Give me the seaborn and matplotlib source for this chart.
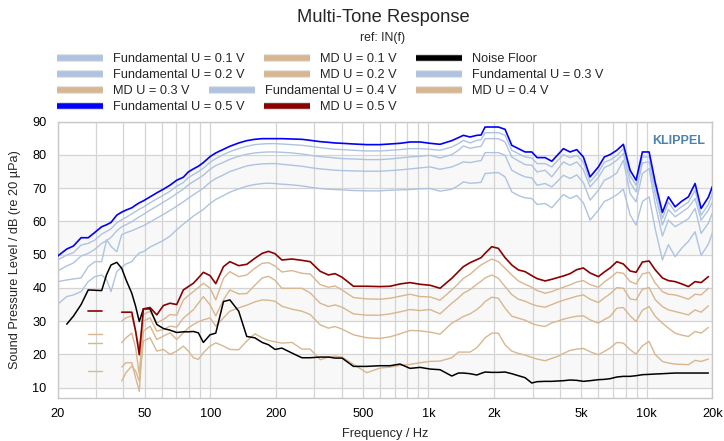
import numpy as np
import pandas as pd
import matplotlib
matplotlib.use("Agg")
import matplotlib.pyplot as plt
import matplotlib.ticker as mticker
import matplotlib.patheffects as pe
from matplotlib.lines import Line2D
import seaborn as sns

nan = np.nan

# ---------------- data ----------------
freq = [20, 22.0, 23.6, 25.6, 27.6, 29.6, 31.8, 33.5, 35.1, 37.3,
        39.3, 41.1, 43.7, 45.5, 47.3, 49.4, 53.0, 56.9, 61.0, 65.4,
        70.2, 75.3, 79.4, 83.7, 88.2, 93.0, 99.8, 106, 115, 123,
        135, 147, 160, 173, 185, 198, 213, 237, 263, 287,
        319, 348, 373, 402, 453, 522, 600, 667, 741, 823,
        915, 1017, 1130, 1279, 1371, 1445, 1551, 1665, 1742, 1817,
        1950, 2090, 2244, 2408, 2582, 2772, 2974, 3146, 3424, 3674,
        3906, 4152, 4454, 4782, 5126, 5502, 6006, 6397, 6795, 7294,
        7817, 8391, 8940, 9556, 10258, 10926, 11802, 12572, 13494, 14484,
        15524, 16660, 17754, 19174, 20000]

fund_05 = [49.6, 51.7, 52.6, 55.1, 55.1, 56.7, 58.4, 59.0, 59.7, 61.9,
           62.8, 63.4, 64.1, 64.9, 65.6, 66.2, 67.4, 68.6, 69.7, 70.9,
           72.4, 73.3, 74.9, 75.8, 76.6, 77.7, 79.5, 80.6, 81.7, 82.6,
           83.6, 84.3, 84.7, 84.9, 84.9, 84.9, 84.9, 84.8, 84.7, 84.4,
           84.0, 83.8, 83.6, 83.5, 83.3, 83.1, 83.1, 83.3, 83.5, 83.9,
           83.9, 83.5, 83.2, 84.3, 85.2, 85.9, 85.4, 85.9, 86.0, 88.4,
           88.4, 88.4, 87.7, 82.9, 81.9, 80.9, 80.9, 79.2, 79.2, 78.1,
           80.0, 81.9, 80.9, 81.6, 79.4, 73.4, 76.4, 79.4, 80.1, 81.4,
           83.2, 75.4, 72.4, 80.9, 80.9, 71.9, 62.7, 67.4, 64.4, 66.1,
           67.4, 71.4, 63.9, 67.3, 70.5]

fund_04 = [48.4, 49.9, 50.6, 52.9, 53.4, 54.4, 56.2, 57.0, 57.8, 59.6,
           60.5, 61.2, 62.3, 63.0, 63.7, 64.3, 65.6, 66.8, 67.9, 69.1,
           70.6, 71.7, 73.2, 74.1, 75.0, 76.0, 77.8, 78.9, 80.1, 81.0,
           81.9, 82.6, 83.1, 83.3, 83.4, 83.4, 83.3, 83.1, 82.9, 82.6,
           82.2, 81.9, 81.7, 81.6, 81.4, 81.2, 81.2, 81.4, 81.6, 81.9,
           81.9, 81.7, 81.4, 82.4, 83.4, 84.4, 83.6, 84.4, 84.6, 86.7,
           86.7, 86.7, 85.9, 81.4, 80.4, 79.4, 79.1, 77.4, 77.4, 76.4,
           78.3, 80.1, 79.2, 79.9, 77.8, 71.9, 74.8, 77.8, 78.5, 79.8,
           81.9, 73.8, 70.9, 79.4, 79.4, 70.4, 60.9, 65.8, 62.9, 64.5,
           65.8, 69.4, 61.9, 65.1, 68.4]

fund_03 = [45.1, 46.6, 47.5, 49.6, 50.4, 51.6, 53.4, 54.2, 55.2, 57.2,
           58.4, 59.0, 59.9, 60.7, 61.4, 62.1, 63.4, 64.6, 65.8, 67.0,
           68.4, 69.7, 71.0, 72.0, 72.9, 73.9, 75.7, 76.8, 77.8, 78.7,
           79.6, 80.2, 80.6, 80.8, 80.9, 80.9, 80.8, 80.6, 80.3, 79.9,
           79.5, 79.3, 79.1, 78.9, 78.8, 78.6, 78.6, 78.8, 79.1, 79.4,
           79.6, 79.9, 79.1, 80.1, 81.4, 82.7, 82.0, 82.4, 82.6, 84.9,
           84.9, 84.9, 83.9, 79.4, 78.2, 77.1, 76.9, 74.9, 75.4, 73.4,
           75.7, 77.9, 76.9, 77.9, 75.6, 70.4, 73.2, 76.2, 77.0, 78.4,
           80.4, 71.8, 68.9, 77.6, 77.9, 68.4, 58.9, 63.6, 61.4, 62.8,
           64.2, 66.9, 60.4, 63.4, 65.9]

fund_02 = [41.9, 42.4, 42.7, 43.0, 46.4, 47.9, 47.9, 54.5, 52.5, 50.9,
           56.0, 56.6, 57.2, 57.7, 58.2, 58.7, 59.8, 61.0, 62.1, 63.3,
           64.6, 65.9, 67.0, 68.0, 69.0, 70.0, 71.8, 72.9, 74.0, 75.0,
           75.9, 76.7, 77.1, 77.3, 77.4, 77.4, 77.2, 76.9, 76.6, 76.2,
           75.8, 75.6, 75.4, 75.3, 75.2, 75.1, 75.1, 75.3, 75.5, 75.8,
           76.1, 76.4, 75.7, 76.4, 77.2, 77.9, 77.7, 78.1, 78.3, 80.7,
           80.7, 80.7, 79.9, 75.4, 74.3, 73.4, 73.1, 70.9, 71.4, 70.4,
           72.1, 73.9, 72.9, 74.0, 71.7, 66.4, 69.4, 72.4, 73.2, 74.6,
           78.4, 68.4, 65.9, 74.4, 75.9, 65.4, 55.6, 60.4, 58.4, 59.6,
           60.8, 63.9, 56.4, 59.5, 62.6]

fund_01 = [35.1, 37.4, 37.9, 38.9, 41.9, 43.4, 43.9, 42.5, 38.9, 44.9,
           46.2, 47.2, 47.9, 49.4, 50.5, 50.9, 52.3, 53.3, 54.3, 55.6,
           57.5, 59.2, 60.4, 61.6, 62.6, 63.6, 65.4, 66.6, 67.8, 68.8,
           69.8, 70.6, 71.1, 71.4, 71.5, 71.4, 71.2, 71.0, 70.7, 70.3,
           69.9, 69.7, 69.6, 69.5, 69.3, 69.2, 69.2, 69.4, 69.5, 69.6,
           69.8, 69.9, 69.1, 69.7, 70.8, 71.9, 71.5, 71.6, 71.8, 74.4,
           74.6, 74.7, 73.4, 68.9, 67.8, 67.1, 66.9, 65.1, 65.4, 64.1,
           66.1, 68.1, 66.9, 67.8, 65.6, 60.4, 63.4, 66.0, 66.8, 68.0,
           69.7, 62.0, 58.9, 66.0, 67.4, 57.9, 48.4, 53.0, 49.4, 52.0,
           54.0, 56.9, 49.8, 53.2, 56.6]

md_05 = [nan, nan, nan, nan, 33.1, 33.1, 33.1, nan, nan, nan,
         32.7, 32.7, 32.7, 27.0, 19.9, 33.7, 34.1, 31.9, 34.7, 35.4,
         35.0, 39.4, 40.4, 41.4, 43.0, 44.7, 43.7, 41.3, 46.4, 47.9,
         46.7, 47.1, 48.9, 50.4, 51.0, 50.3, 48.4, 48.7, 48.3, 47.9,
         45.0, 43.9, 44.3, 43.2, 40.5, 40.5, 40.4, 40.5, 41.2, 41.6,
         41.1, 40.8, 39.9, 42.9, 44.9, 46.4, 47.6, 48.5, 49.1, 50.4,
         52.4, 51.9, 49.1, 46.9, 45.4, 44.9, 43.7, 42.8, 42.1, 42.6,
         43.1, 43.6, 44.3, 45.5, 46.0, 44.5, 43.4, 44.8, 46.0, 47.9,
         47.2, 45.1, 44.7, 47.8, 48.1, 45.5, 43.0, 42.2, 41.9, 41.2,
         40.4, 41.9, 41.6, 43.4, nan]

md_04 = [nan, nan, nan, nan, 26.2, 26.2, 26.2, nan, nan, nan,
         30.0, 31.0, 31.6, 27.0, 22.0, 32.0, 33.0, 29.5, 30.5, 32.0,
         31.8, 36.4, 37.7, 38.9, 40.1, 41.4, 39.9, 36.4, 42.9, 44.9,
         43.4, 43.9, 45.9, 47.4, 47.6, 46.6, 44.8, 45.2, 44.4, 44.2,
         41.0, 40.2, 40.6, 39.4, 37.1, 36.7, 36.6, 36.9, 37.5, 38.1,
         37.4, 37.3, 36.3, 39.4, 41.3, 42.9, 44.1, 45.9, 46.9, 47.6,
         48.7, 47.9, 45.9, 43.9, 42.1, 41.1, 40.2, 39.2, 38.4, 38.9,
         39.6, 40.2, 40.9, 41.8, 42.2, 41.0, 40.2, 41.8, 43.0, 44.7,
         44.4, 41.9, 41.2, 44.2, 44.7, 41.5, 38.9, 38.1, 37.9, 37.3,
         36.6, 38.1, 37.9, 39.9, nan]

md_03 = [nan, nan, nan, nan, 23.4, 23.4, 23.4, nan, nan, nan,
         23.5, 25.0, 26.4, 22.0, 14.0, 30.0, 31.0, 27.0, 27.5, 28.5,
         28.2, 30.9, 32.2, 33.4, 35.4, 37.4, 34.9, 31.6, 36.4, 39.4,
         38.2, 38.3, 40.8, 43.0, 43.5, 42.3, 39.9, 39.9, 39.9, 38.5,
         35.4, 34.4, 34.9, 34.2, 32.2, 31.8, 31.8, 32.2, 32.8, 33.5,
         33.2, 33.5, 32.2, 35.4, 37.0, 38.4, 39.5, 41.1, 42.0, 43.0,
         43.9, 42.9, 40.4, 38.0, 36.6, 36.0, 35.1, 34.6, 34.2, 35.0,
         35.7, 36.3, 36.9, 37.5, 37.9, 36.6, 35.6, 37.0, 38.2, 40.1,
         39.9, 36.7, 36.4, 39.6, 40.1, 36.5, 34.4, 33.4, 32.9, 32.4,
         31.9, 33.4, 32.7, 34.6, nan]

md_02 = [nan, nan, nan, nan, 15.1, 15.1, 15.1, nan, nan, nan,
         16.2, 17.5, 17.5, 13.0, 8.9, 27.0, 28.5, 24.5, 25.5, 26.5,
         24.5, 26.5, 28.0, 29.0, 29.8, 30.4, 31.0, 28.5, 31.0, 33.0,
         34.0, 34.8, 35.8, 36.4, 36.3, 36.0, 34.5, 33.6, 33.0, 32.0,
         28.9, 27.9, 28.4, 27.6, 25.9, 25.0, 24.8, 25.3, 26.2, 27.2,
         27.1, 26.7, 26.1, 29.4, 30.5, 31.4, 32.2, 33.5, 34.6, 35.9,
         37.2, 36.9, 33.9, 31.5, 30.9, 30.3, 29.3, 28.8, 28.4, 29.5,
         30.0, 30.6, 31.1, 31.5, 31.6, 30.4, 29.4, 30.5, 31.4, 33.9,
         34.1, 31.6, 29.9, 33.3, 34.4, 31.5, 29.4, 27.9, 26.4, 25.8,
         25.4, 26.9, 26.4, 28.1, nan]

md_01 = [nan, nan, nan, nan, nan, nan, nan, nan, nan, nan,
         12.0, 14.5, 16.5, 15.0, 12.0, 24.0, 25.0, 21.0, 21.5, 20.0,
         21.0, 22.5, 21.0, 19.0, 18.5, 20.5, 22.5, 23.5, 22.5, 21.5,
         21.4, 24.0, 26.2, 25.0, 24.2, 23.8, 23.4, 23.6, 21.6, 21.6,
         18.4, 19.2, 19.5, 19.2, 17.0, 14.5, 15.9, 16.2, 16.7, 17.0,
         17.5, 17.9, 18.0, 19.0, 20.7, 20.7, 20.7, 22.0, 23.5, 25.0,
         26.4, 26.4, 22.9, 21.0, 20.3, 19.8, 19.1, 18.6, 18.1, 18.8,
         19.4, 20.3, 21.2, 21.6, 21.8, 20.8, 19.9, 20.9, 21.9, 23.6,
         23.4, 21.4, 20.1, 22.6, 23.9, 20.0, 17.9, 17.4, 17.1, 17.0,
         16.9, 18.2, 17.9, 18.6, nan]

noise_floor = [nan, 29.1, 31.5, 35.0, 39.4, 39.3, 39.2, 44.0, 46.9, 47.7,
               45.9, 42.5, 38.4, 34.5, 29.9, 33.7, 33.7, 29.0, 27.8, 27.3,
               26.6, 26.8, 26.8, 26.9, 26.5, 23.6, 25.9, 26.4, 35.9, 36.4,
               33.0, 25.4, 25.0, 23.6, 22.9, 21.5, 21.9, 20.4, 19.0, 19.0,
               19.2, 19.2, 18.9, 18.9, 16.4, 16.4, 16.6, 16.6, 17.1, 15.8,
               16.1, 15.6, 15.4, 13.5, 14.4, 14.4, 14.2, 13.8, 14.3, 14.7,
               14.6, 14.6, 14.7, 14.2, 13.6, 13.0, 11.4, 11.8, 11.9, 11.9,
               12.0, 12.1, 12.3, 12.2, 11.9, 12.1, 12.4, 12.5, 12.7, 13.2,
               13.4, 13.4, 13.6, 13.9, 14.0, 14.1, 14.2, 14.3, 14.4, 14.4,
               14.4, 14.4, 14.4, 14.4, nan]

x_ticks = [20, 50, 100, 200, 500, 1000, 2000, 5000, 10000, 20000]
x_tick_labels = ["20", "50", "100", "200", "500", "1k", "2k", "5k", "10k", "20k"]
y_ticks = [10, 20, 30, 40, 50, 60, 70, 80, 90]

# ---------------- styling ----------------
C_FUND = "#aec3e1"
C_MD = "#d9b68e"
C_FUND5 = "#0000ff"
C_MD5 = "#8b0000"
C_NF = "#000000"

series = [
    ("Fundamental U = 0.1 V", fund_01, C_FUND, 1.0, 2),
    ("Fundamental U = 0.2 V", fund_02, C_FUND, 1.0, 2),
    ("Fundamental U = 0.3 V", fund_03, C_FUND, 1.0, 2),
    ("Fundamental U = 0.4 V", fund_04, C_FUND, 1.0, 2),
    ("MD U = 0.1 V", md_01, C_MD, 1.0, 3),
    ("MD U = 0.2 V", md_02, C_MD, 1.0, 3),
    ("MD U = 0.3 V", md_03, C_MD, 1.0, 3),
    ("MD U = 0.4 V", md_04, C_MD, 1.0, 3),
    ("Noise Floor", noise_floor, C_NF, 1.1, 4),
    ("Fundamental U = 0.5 V", fund_05, C_FUND5, 1.2, 5),
    ("MD U = 0.5 V", md_05, C_MD5, 1.2, 5),
]
style = {name: (c, lw, z) for name, _, c, lw, z in series}

rows = []
for name, vals, *_ in series:
    seg = 0
    gap = True
    for f, v in zip(freq, vals):
        if np.isnan(v):
            gap = True
            continue
        if gap:
            seg += 1
            gap = False
        rows.append((name, f"{name}#{seg}", f, v))
df = pd.DataFrame(rows, columns=["series", "unit", "freq", "level"])

sns.set_theme(style="white")
plt.rcParams["font.family"] = ["Liberation Sans", "DejaVu Sans"]

fig = plt.figure(figsize=(7.24, 4.41), dpi=100)
ax = fig.add_axes([57.7 / 724, 1 - 398.3 / 441, (712.4 - 57.7) / 724, (398.3 - 121.7) / 441])
ax.set_xscale("log")

for lo in (10, 30, 50, 70):
    ax.axhspan(lo, lo + 10, color="#f8f8f8", zorder=0, lw=0)

for name, *_ in series:
    c, lw, z = style[name]
    sub = df[df["series"] == name]
    sns.lineplot(data=sub, x="freq", y="level", units="unit", estimator=None,
                 sort=False, color=c, linewidth=lw, ax=ax, legend=False, zorder=z)

ax.set_xlim(20, 20000)
ax.set_ylim(6.8, 90)
ax.xaxis.set_major_locator(mticker.FixedLocator(x_ticks))
ax.xaxis.set_major_formatter(mticker.FixedFormatter(x_tick_labels))
ax.xaxis.set_minor_locator(mticker.LogLocator(base=10, subs=np.arange(2, 10)))
ax.xaxis.set_minor_formatter(mticker.NullFormatter())
ax.yaxis.set_major_locator(mticker.FixedLocator(y_ticks))
ax.yaxis.set_minor_locator(mticker.MultipleLocator(2))

ax.grid(True, which="major", axis="both", color="#d4d4d4", lw=0.9, zorder=1)
ax.grid(True, which="minor", axis="x", color="#d4d4d4", lw=0.9, zorder=1)
ax.set_axisbelow(True)

ax.tick_params(axis="x", which="both", length=0, pad=7, labelsize=9.2, colors="#000000")
ax.tick_params(axis="y", which="major", direction="in", length=5, width=0.8,
               color="#b8b8b8", pad=8, labelsize=9.2, labelcolor="#000000")
ax.tick_params(axis="y", which="minor", direction="in", length=5, width=0.8, color="#c8c8c8")
for s in ax.spines.values():
    s.set_color("#c8c8c8")
    s.set_linewidth(1.0)

ax.set_xlabel("Frequency / Hz", fontsize=9.2, labelpad=6)
ax.set_ylabel("Sound Pressure Level / dB (re 20 µPa)", fontsize=9.2, labelpad=8)

ax.text((705 - 57.7) / 654.7, 0.93, "KLIPPEL", transform=ax.transAxes, ha="right", va="center",
        fontsize=9, fontweight="bold", color="#4a83ae", zorder=6)

fig.text(383 / 724, 1 - 17 / 441, "Multi-Tone Response", ha="center", va="center", fontsize=13.2)
fig.text(383 / 724, 1 - 38.5 / 441, "ref: IN(f)", ha="center", va="center", fontsize=8.8)

# ---------------- legend (flow layout, 4 rows) ----------------
def handle(c):
    return Line2D([], [], color=c, lw=4, solid_capstyle="butt",
                  path_effects=[pe.Stroke(linewidth=5.5, foreground="#dcdcdc"), pe.Normal()])

legend_rows = [
    ["Fundamental U = 0.1 V", "MD U = 0.1 V", "Noise Floor"],
    ["Fundamental U = 0.2 V", "MD U = 0.2 V", "Fundamental U = 0.3 V"],
    ["MD U = 0.3 V", "Fundamental U = 0.4 V", "MD U = 0.4 V"],
    ["Fundamental U = 0.5 V", "MD U = 0.5 V"],
]
row_y = [59, 75, 91, 107]
for labels, yy in zip(legend_rows, row_y):
    hs = [handle(style[l][0]) for l in labels]
    fig.legend(hs, labels, loc="center left", bbox_to_anchor=(57 / 724, 1 - yy / 441),
               ncol=len(labels), frameon=False, fontsize=9.2, borderpad=0,
               borderaxespad=0, handlelength=3.6, handletextpad=0.8,
               columnspacing=1.5, handleheight=0.7)

fig.savefig("out.png", dpi=100)
